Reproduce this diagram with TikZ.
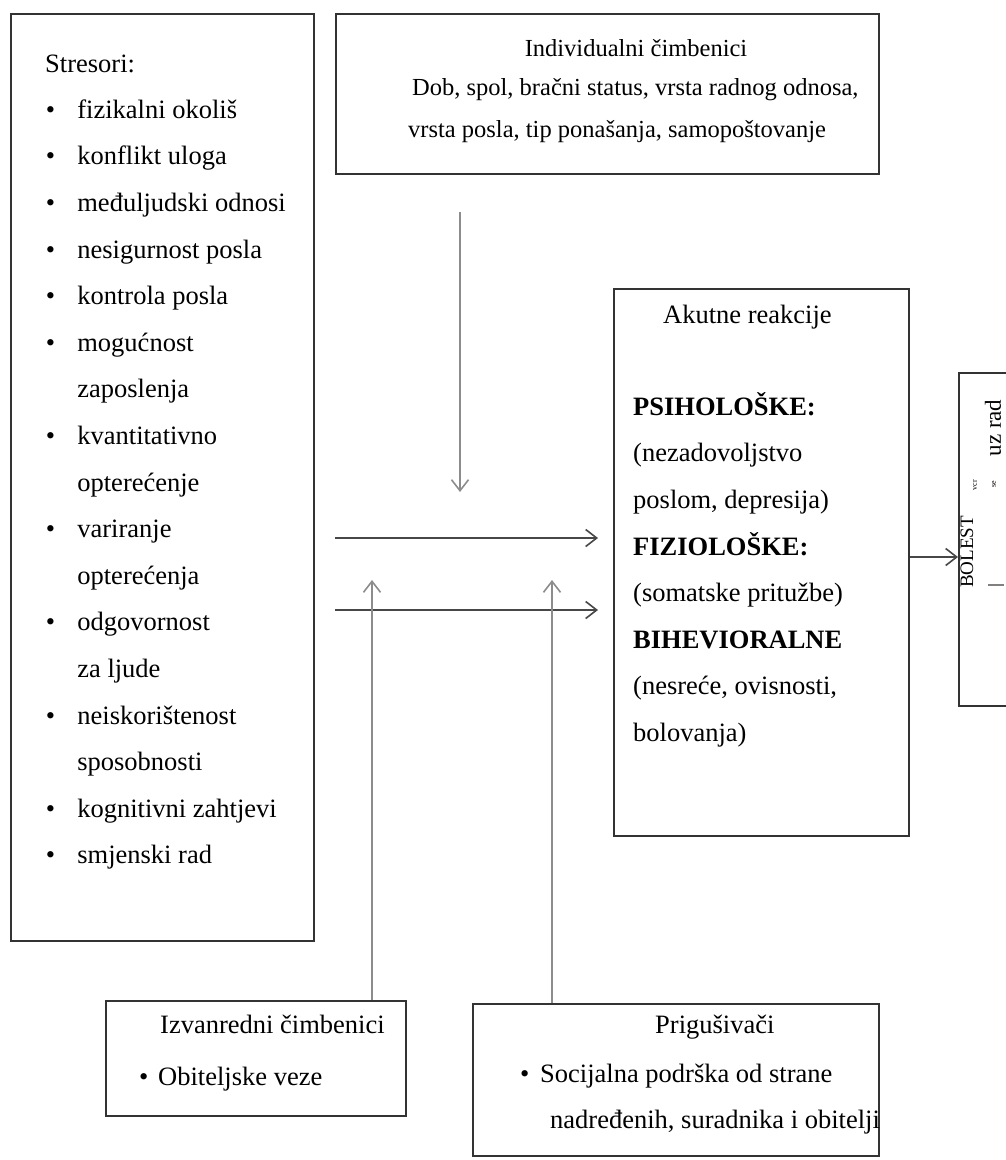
\documentclass[tikz,border=0pt]{standalone}
\usepackage{fontspec}
\setmainfont{Liberation Serif}
\usetikzlibrary{arrows.meta,
                matrix,
                positioning}
\newcommand\fsz[1]{\fontsize{#1}{#1}\selectfont}

\begin{document}
\begin{tikzpicture}[x=1pt, y=-1pt,
       box/.style = {draw=black!80, line width=2pt, inner sep=0pt, anchor=north west},
         T/.style = {inner sep=0pt, anchor=base west, font=\fsz{26.5}},
       arr/.style = {draw=black!72, line width=1.6pt, -{Straight Barb[length=11pt, width=17pt]}},
      arrl/.style = {arr, draw=black!45},
         M/.style = {matrix of nodes, inner sep=0pt, anchor=north west,
                     nodes = {T, text height=19pt, text depth=6pt},
                     column sep=22.3pt,
                     row sep=21.6pt}
                    ]
\useasboundingbox (0,0) rectangle (1006,1160);

% boxes
\node[box, minimum width=303, minimum height=927] (stres) at (10,13) {};
\node[box, minimum width=543, minimum height=160] (ind)   at (335,13) {};
\node[box, minimum width=295, minimum height=547] (akut)  at (613,288) {};
\node[box, minimum width=80,  minimum height=333] (bol)   at (958,372) {};
\node[box, minimum width=300, minimum height=115] (izv)   at (105,1000) {};
\node[box, minimum width=406, minimum height=152] (prig)  at (472,1003) {};

% stresori
\node[T] (str-h) at (45,72) {Stresori:};
\matrix (strlist) [M] at (45.4,99)
{
\textbullet & fizikalni okoliš \\
\textbullet & konflikt uloga \\
\textbullet & međuljudski odnosi \\
\textbullet & nesigurnost posla \\
\textbullet & kontrola posla \\
\textbullet & mogućnost \\
            & zaposlenja \\
\textbullet & kvantitativno \\
            & opterećenje \\
\textbullet & variranje \\
            & opterećenja \\
\textbullet & odgovornost \\
            & za ljude \\
\textbullet & neiskorištenost \\
            & sposobnosti \\
\textbullet & kognitivni zahtjevi \\
\textbullet & smjenski rad \\
};

% individualni
\node[T, anchor=base, font=\fsz{24.5}] (ind-h) at (636,56) {Individualni čimbenici};
\node[T, font=\fsz{24.5}] (ind-1) at (412,95)  {Dob, spol, bračni status, vrsta radnog odnosa,};
\node[T, font=\fsz{24.5}] (ind-2) at (408,137) {vrsta posla, tip ponašanja, samopoštovanje};

% akutne reakcije
\node[T] (akut-h) at (663,323) {Akutne reakcije};
\matrix (aklist) [M] at (633,396)
{
\textbf{PSIHOLOŠKE:} \\
(nezadovoljstvo \\
poslom, depresija) \\
\textbf{FIZIOLOŠKE:} \\
(somatske pritužbe) \\
\textbf{BIHEVIORALNE} \\
(nesreće, ovisnosti, \\
bolovanja) \\
};

% bolest
\node[inner sep=0pt, rotate=90, font=\fsz{19}]   (bol-1) at (967,552) {BOLEST};
\node[inner sep=0pt, rotate=90, font=\fsz{23}]   (bol-2) at (993,428) {uz rad};
\node[inner sep=0pt, rotate=90, font=\fsz{8}]    (bol-3) at (975,485) {vcr};
\node[inner sep=0pt, rotate=90, font=\fsz{8}]    (bol-4) at (994,484) {se};
\draw[black!50, line width=1.2pt] (988,585) -- (1004,585);

% izvanredni
\node[T] (izv-h) at (160,1033) {Izvanredni čimbenici};
\node[T] (izv-b) at (139,1085) {\textbullet};
\node[T] (izv-1) at (158,1085) {Obiteljske veze};

% prigusivaci
\node[T] (prig-h) at (655,1033) {Prigušivači};
\node[T] (prig-b) at (520,1082) {\textbullet};
\node[T] (prig-1) at (540,1082) {Socijalna podrška od strane};
\node[T] (prig-2) at (550,1128) {nadređenih, suradnika i obitelji};

% arrows
\coordinate (d1) at (460,492);
\coordinate (h1) at (335,538);
\coordinate (h2) at (335,610);
\coordinate (u1) at (372,580);
\coordinate (u2) at (552,580);
\coordinate (r1) at (958,557);
\draw[arrl, shorten <=37pt] (ind.south -| d1) -- (d1);
\draw[arr, shorten >=15pt]  (h1) -- (h1 -| akut.west);
\draw[arr, shorten >=15pt]  (h2) -- (h2 -| akut.west);
\draw[arrl] (izv.north -| u1)  -- (u1);
\draw[arrl] (prig.north -| u2) -- (u2);
\draw[arr]  (akut.east |- r1)  -- (r1);
\end{tikzpicture}
\end{document}
